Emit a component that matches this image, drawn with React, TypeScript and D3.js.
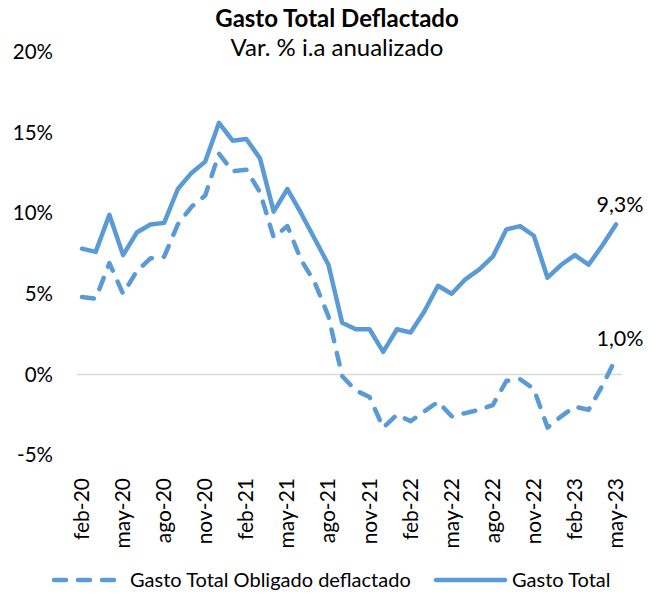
import React from "react";
import * as d3 from "d3";

const months: string[] = [
  "feb-20","mar-20","abr-20","may-20","jun-20","jul-20","ago-20","sep-20","oct-20","nov-20","dic-20",
  "ene-21","feb-21","mar-21","abr-21","may-21","jun-21","jul-21","ago-21","sep-21","oct-21","nov-21","dic-21",
  "ene-22","feb-22","mar-22","abr-22","may-22","jun-22","jul-22","ago-22","sep-22","oct-22","nov-22","dic-22",
  "ene-23","feb-23","mar-23","abr-23","may-23",
];

const gastoTotal: number[] = [
  7.8, 7.6, 9.9, 7.4, 8.8, 9.3, 9.4, 11.5, 12.5, 13.2, 15.6,
  14.5, 14.6, 13.4, 10.1, 11.5, 10.0, 8.4, 6.8, 3.2, 2.8, 2.8, 1.4,
  2.8, 2.6, 3.9, 5.5, 5.0, 5.9, 6.5, 7.3, 9.0, 9.2, 8.6, 6.0,
  6.8, 7.4, 6.8, 8.0, 9.3,
];

const gastoObligado: number[] = [
  4.8, 4.7, 6.9, 5.0, 6.4, 7.2, 7.3, 9.3, 10.4, 11.1, 13.7,
  12.6, 12.7, 11.3, 8.5, 9.2, 7.1, 5.7, 3.6, -0.1, -1.0, -1.4, -3.3,
  -2.5, -2.9, -2.3, -1.7, -2.6, -2.4, -2.2, -1.9, -0.4, -0.3, -0.9, -3.3,
  -2.6, -2.0, -2.2, -0.7, 1.0,
];

const yTicks: number[] = [-5, 0, 5, 10, 15, 20];
const xTickLabels: string[] = months.filter((_, i) => i % 3 === 0);

const title = "Gasto Total Deflactado";
const subtitle = "Var. % i.a anualizado";
const seriesNames: string[] = ["Gasto Total Obligado deflactado", "Gasto Total"];

const COLOR = "#5B9BD5";
const FONT = "Lato, 'Open Sans', sans-serif";
const DASH = "12 12";

export default function App() {
  const x = d3.scalePoint<string>().domain(months).range([82, 616]);
  const y = d3.scaleLinear().domain([-5, 20]).range([455, 52]);

  const line = d3
    .line<number>()
    .x((_, i) => x(months[i]) as number)
    .y((d) => y(d));

  const last = months.length - 1;
  const fmt = (v: number) => v.toFixed(1).replace(".", ",") + "%";

  return (
    <svg
      width={660}
      height={596}
      style={{ position: "absolute", left: 0, top: 0, background: "#fff" }}
      fontFamily={FONT}
    >
      <rect x={0} y={0} width={660} height={596} fill="#fff" />
      <text x={337} y={27} textAnchor="middle" fontSize={24} fontWeight="bold" fill="#000">
        {title}
      </text>
      <text x={337} y={56} textAnchor="middle" fontSize={24} fill="#000">
        {subtitle}
      </text>

      {/* zero line */}
      <line x1={77} x2={622} y1={y(0)} y2={y(0)} stroke="#d9d9d9" strokeWidth={1.5} />

      {/* y axis labels */}
      {yTicks.map((t) => (
        <text key={t} x={53} y={y(t)} dy="0.35em" textAnchor="end" fontSize={20.5} fill="#000">
          {t + "%"}
        </text>
      ))}

      {/* x axis labels */}
      {xTickLabels.map((m) => (
        <text
          key={m}
          transform={`translate(${(x(m) as number) + 7},478) rotate(-90)`}
          textAnchor="end"
          fontSize={21}
          fill="#000"
        >
          {m}
        </text>
      ))}

      <path
        d={line(gastoObligado) || ""}
        fill="none"
        stroke={COLOR}
        strokeWidth={4.5}
        strokeDasharray={DASH}
        strokeLinecap="round"
        strokeLinejoin="round"
      />
      <path
        d={line(gastoTotal) || ""}
        fill="none"
        stroke={COLOR}
        strokeWidth={4.5}
        strokeLinecap="round"
        strokeLinejoin="round"
      />

      <text x={620} y={y(gastoTotal[last]) - 12} textAnchor="middle" fontSize={21.5} fill="#000">
        {fmt(gastoTotal[last])}
      </text>
      <text x={620} y={y(gastoObligado[last]) - 12} textAnchor="middle" fontSize={21.5} fill="#000">
        {fmt(gastoObligado[last])}
      </text>

      {/* legend */}
      <line x1={54} x2={116} y1={580} y2={580} stroke={COLOR} strokeWidth={4.5} strokeDasharray={DASH} strokeLinecap="round" />
      <text x={130} y={580} dy="0.35em" fontSize={20} fill="#000">
        {seriesNames[0]}
      </text>
      <line x1={436} x2={505} y1={580} y2={580} stroke={COLOR} strokeWidth={4.5} strokeLinecap="round" />
      <text x={512} y={580} dy="0.35em" fontSize={20} fill="#000">
        {seriesNames[1]}
      </text>
    </svg>
  );
}
